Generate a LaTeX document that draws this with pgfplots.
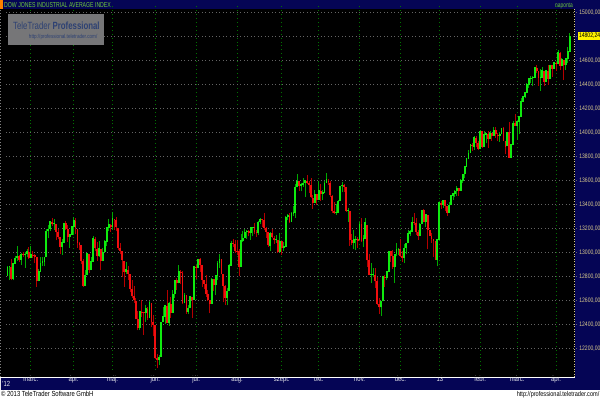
\documentclass[border=0pt]{standalone}
\usepackage{pgfplots}
\usepackage{pgfplotstable}
\pgfplotsset{compat=1.18}
\usepackage{fontspec}
\setmainfont{Liberation Sans}
\newfontfamily\nf[FakeStretch=0.8]{Liberation Sans}
\newfontfamily\tf[FakeStretch=0.72]{Liberation Sans}
\newfontfamily\yf[FakeStretch=0.78]{Liberation Sans}
\newfontfamily\wf[FakeStretch=0.75]{Liberation Sans}
\definecolor{navy}{RGB}{5,5,85}
\definecolor{gridgray}{RGB}{100,100,100}
\definecolor{gridgreen}{RGB}{0,115,0}
\definecolor{upbody}{RGB}{15,235,15}
\definecolor{upwick}{RGB}{0,170,0}
\definecolor{dnbody}{RGB}{240,15,15}
\definecolor{dnwick}{RGB}{180,0,0}
\definecolor{ticktan}{RGB}{215,200,140}
\definecolor{titlegreen}{RGB}{110,200,60}
\definecolor{wmgray}{RGB}{118,118,120}
\definecolor{wmblue}{RGB}{45,65,115}
\definecolor{monthgray}{RGB}{230,230,235}
\definecolor{baseline}{RGB}{150,150,140}

% DJIA daily candles, 13 Feb 2012 - 10 Apr 2013 (row 0 = 13 Feb 2012, row 12 = 1 Mar 2012)
\pgfplotstableread{
o h l c
12801 12884 12801 12874
12874 12879 12765 12878
12878 12947 12767 12781
12781 12910 12766 12904
12904 12972 12904 12950
12950 13056 12928 12966
12965 12976 12920 12938
12937 12993 12895 12985
12985 13000 12963 12983
12981 13006 12872 12982
12982 13027 12957 13005
13005 13041 12943 12952
12952 13056 12952 12980
12980 13010 12953 12978
12977 12989 12908 12962
12960 12960 12710 12759
12760 12858 12760 12837
12838 12958 12838 12907
12907 12960 12884 12922
12921 12961 12883 12960
12960 13193 12958 13177
13177 13227 13117 13194
13193 13254 13178 13253
13253 13290 13219 13233
13232 13276 13188 13239
13237 13237 13099 13170
13170 13198 13110 13125
13124 13124 12985 13046
13046 13108 12980 13080
13081 13248 13081 13241
13241 13265 13190 13197
13197 13224 13088 13126
13124 13150 13036 13146
13146 13223 13144 13212
13212 13297 13145 13264
13264 13289 13149 13199
13196 13196 13032 13075
13074 13089 13018 13060
13057 13057 12902 12929
12928 12947 12710 12716
12718 12856 12718 12806
12807 12993 12807 12987
12985 12985 12831 12850
12851 12957 12851 12921
12922 13132 12922 13116
13114 13130 13008 13033
13031 13088 12931 12965
12965 13098 12964 13029
13028 13028 12850 12928
12929 13036 12926 13002
13002 13100 13002 13091
13090 13214 13052 13205
13204 13280 13177 13229
13228 13240 13170 13214
13214 13338 13185 13280
13278 13280 13190 13269
13268 13292 13176 13207
13206 13206 13020 13038
13039 13078 12986 13009
13007 13007 12790 12933
12931 12931 12711 12836
12835 12919 12820 12855
12854 12888 12770 12821
12820 12820 12665 12695
12695 12770 12620 12633
12632 12717 12580 12599
12598 12620 12440 12443
12442 12511 12350 12369
12369 12507 12352 12504
12503 12602 12460 12502
12501 12501 12311 12496
12497 12564 12422 12530
12529 12543 12432 12455
12456 12592 12456 12581
12580 12580 12380 12420
12419 12480 12300 12393
12391 12391 12107 12119
12119 12155 12035 12101
12101 12147 12061 12127
12128 12420 12128 12415
12416 12548 12416 12461
12460 12558 12400 12554
12555 12684 12410 12412
12412 12586 12385 12574
12573 12627 12454 12497
12496 12682 12496 12652
12651 12768 12621 12767
12766 12784 12686 12742
12742 12898 12742 12837
12837 12856 12739 12825
12824 12844 12565 12574
12574 12660 12574 12641
12640 12640 12488 12503
12503 12563 12488 12535
12535 12637 12535 12628
12627 12627 12450 12602
12604 12880 12604 12880
12879 12895 12777 12871
12871 12948 12871 12943
12942 12954 12839 12896
12894 12894 12707 12772
12771 12771 12690 12736
12736 12808 12627 12653
12654 12686 12592 12605
12603 12603 12492 12573
12573 12784 12573 12777
12776 12776 12681 12727
12728 12812 12644 12805
12805 12926 12768 12909
12910 12983 12870 12943
12942 12942 12815 12823
12821 12821 12583 12722
12721 12731 12558 12618
12617 12700 12557 12677
12677 12900 12677 12888
12887 13094 12887 13076
13075 13114 13045 13073
13072 13101 12996 13009
13009 13105 12978 13008
13007 13027 12800 12878
12879 13151 12879 13096
13097 13178 13089 13118
13118 13192 13118 13169
13167 13186 13112 13176
13175 13188 13133 13165
13163 13209 13103 13208
13207 13207 13133 13207
13207 13247 13151 13172
13171 13188 13129 13165
13165 13259 13145 13251
13252 13285 13233 13276
13274 13276 13214 13272
13271 13330 13183 13203
13202 13211 13119 13173
13172 13172 13045 13058
13052 13172 13009 13158
13157 13197 13117 13124
13123 13140 13073 13103
13102 13142 13081 13108
13105 13105 12993 13001
13002 13158 13002 13091
13091 13097 12978 13036
13036 13089 13015 13047
13046 13299 13046 13292
13292 13320 13266 13307
13305 13325 13242 13254
13254 13339 13254 13324
13323 13383 13299 13333
13330 13573 13284 13540
13541 13653 13541 13593
13591 13591 13514 13553
13552 13578 13508 13565
13564 13621 13543 13577
13576 13600 13465 13597
13597 13647 13570 13579
13577 13597 13498 13558
13559 13621 13455 13457
13455 13479 13364 13413
13414 13520 13414 13486
13485 13485 13398 13437
13437 13596 13437 13515
13515 13567 13430 13482
13482 13519 13434 13495
13495 13594 13495 13575
13576 13661 13576 13610
13594 13610 13560 13583
13581 13592 13464 13474
13471 13480 13329 13345
13346 13419 13320 13327
13327 13400 13311 13329
13329 13438 13329 13424
13424 13552 13424 13551
13551 13588 13501 13557
13557 13572 13505 13548
13545 13545 13335 13344
13344 13368 13254 13346
13342 13342 13056 13103
13103 13155 13064 13078
13079 13183 13030 13104
13103 13137 13016 13107
13107 13129 13040 13096
13099 13252 13099 13232
13232 13290 13083 13093
13092 13147 13044 13112
13112 13290 13112 13246
13228 13228 12877 12933
12933 12984 12811 12811
12811 12913 12743 12815
12815 12865 12790 12815
12810 12868 12701 12757
12758 12794 12560 12571
12570 12622 12489 12543
12542 12596 12471 12588
12590 12797 12590 12796
12795 12812 12707 12788
12788 12843 12770 12836
12837 13011 12837 13010
13009 13009 12921 12967
12966 13018 12864 12878
12877 12985 12743 12985
12986 13080 12965 13022
13022 13040 12977 13026
13027 13109 12962 12965
12966 13012 12918 12951
12951 13069 12908 13035
13036 13074 12982 13074
13075 13184 13075 13155
13154 13183 13135 13170
13169 13294 13169 13249
13250 13331 13225 13245
13246 13286 13144 13171
13170 13186 13106 13135
13136 13243 13136 13236
13236 13354 13236 13351
13350 13365 13249 13252
13252 13313 13211 13312
13311 13311 13024 13190
13190 13190 13132 13139
13138 13164 13081 13114
13114 13114 12964 13096
13095 13095 12938 12938
12938 13109 12883 13104
13104 13412 13104 13412
13413 13430 13359 13391
13391 13436 13368 13435
13432 13432 13343 13385
13383 13384 13306 13329
13330 13420 13330 13391
13392 13473 13392 13471
13471 13497 13439 13488
13487 13519 13460 13507
13507 13550 13470 13535
13534 13534 13472 13512
13511 13609 13511 13596
13596 13650 13578 13650
13650 13712 13617 13712
13712 13782 13712 13779
13779 13855 13774 13826
13826 13896 13826 13896
13895 13915 13844 13882
13881 13969 13856 13954
13954 13967 13879 13911
13910 13929 13850 13861
13861 14020 13861 14010
14009 14009 13873 13880
13880 14014 13880 13979
13978 13996 13907 13987
13986 14007 13868 13944
13944 14008 13944 13993
13992 13993 13931 13971
13970 14045 13970 14019
14019 14043 13950 13982
13981 13991 13925 13973
13973 14000 13923 13981
13983 14036 13983 14035
14034 14045 13924 13928
13926 13926 13822 13881
13882 14003 13882 14001
14001 14086 13784 13784
13784 13905 13784 13900
13898 14091 13898 14076
14075 14150 14054 14054
14054 14090 13937 14090
14087 14128 13985 14128
14128 14286 14128 14254
14255 14302 14254 14296
14297 14331 14282 14329
14329 14414 14329 14397
14395 14448 14370 14448
14448 14473 14412 14450
14450 14470 14387 14455
14455 14539 14455 14539
14539 14563 14497 14515
14510 14510 14385 14453
14453 14525 14346 14456
14456 14547 14456 14512
14511 14511 14389 14421
14421 14514 14421 14512
14512 14563 14395 14448
14448 14560 14448 14560
14558 14558 14461 14527
14526 14585 14526 14579
14578 14590 14508 14573
14573 14684 14573 14662
14662 14669 14521 14550
14551 14623 14550 14606
14606 14606 14434 14565
14565 14613 14518 14613
14613 14711 14579 14673
14673 14826 14673 14802
}\djia

\begin{document}
\begin{tikzpicture}[x=1bp,y=1bp]
\useasboundingbox (0,0) rectangle (600,400);
% backgrounds
\fill[white] (0,0) rectangle (600,400);
\fill[black] (0,23) rectangle (575,391);
\fill[navy] (0,10) rectangle (575,22.4);
\fill[navy] (575,10) rectangle (600,400);
\fill[navy] (0,391) rectangle (600,400);
\fill[orange] (0,391) rectangle (3,400);

\begin{axis}[
  at={(3,25)}, anchor=south west,
  scale only axis, width=571bp, height=365bp,
  xmin=-12.85, xmax=280.7, ymin=12019, ymax=15061,
  axis line style={draw=none},
  major tick length=0pt,
  xtick={0,22,42,64,85,106,129,148,169,190,210,231,250,270},
  xticklabels={\mbox{márc.},\mbox{ápr.},\mbox{máj.},\mbox{jún.},\mbox{júl.},\mbox{aug.},\mbox{szept.},\mbox{okt.},\mbox{nov.},\mbox{dec.},\mbox{'13},\mbox{febr.},\mbox{márc.},\mbox{ápr.}},
  xticklabel style={anchor=base, yshift=-11bp, text=monthgray,
    font=\nf\fontsize{7.4}{8}\selectfont},
  ytick={12200,12400,12600,12800,13000,13200,13400,13600,13800,14000,14200,14400,14600,14800,15000},
  yticklabels={\mbox{12200,00},\mbox{12400,00},\mbox{12600,00},\mbox{12800,00},\mbox{13000,00},\mbox{13200,00},\mbox{13400,00},\mbox{13600,00},\mbox{13800,00},\mbox{14000,00},\mbox{14200,00},\mbox{14400,00},\mbox{14600,00},\mbox{14800,00},\mbox{15000,00}},
  yticklabel pos=right,
  yticklabel style={anchor=west, inner sep=0pt, xshift=2.3bp, text=ticktan,
    font=\yf\fontsize{6.5}{7}\selectfont},
  xmajorgrids, ymajorgrids,
  x grid style={gridgreen, line width=0.8bp, dash pattern=on 0.9bp off 3bp},
  y grid style={gridgray, line width=0.8bp, dash pattern=on 0.9bp off 2.6bp},
  clip=true,
]
% wicks
\addplot[draw=none, forget plot,
  error bars/.cd, y dir=plus, y explicit, error mark=none,
  error bar style={line width=0.8bp, color=upwick}]
  table[x expr=\coordindex-12,
        y expr={\thisrow{c}<\thisrow{o} ? nan : \thisrow{l}},
        y error expr=\thisrow{h}-\thisrow{l}] {\djia};
\addplot[draw=none, forget plot,
  error bars/.cd, y dir=plus, y explicit, error mark=none,
  error bar style={line width=0.8bp, color=dnwick}]
  table[x expr=\coordindex-12,
        y expr={\thisrow{c}<\thisrow{o} ? \thisrow{l} : nan},
        y error expr=\thisrow{h}-\thisrow{l}] {\djia};
% bodies
\addplot[draw=none, forget plot,
  error bars/.cd, y dir=plus, y explicit, error mark=none,
  error bar style={line width=1.85bp, color=upbody}]
  table[x expr=\coordindex-12,
        y expr={\thisrow{c}<\thisrow{o} ? nan : \thisrow{o}},
        y error expr=\thisrow{c}-\thisrow{o}+4] {\djia};
\addplot[draw=none, forget plot,
  error bars/.cd, y dir=plus, y explicit, error mark=none,
  error bar style={line width=1.85bp, color=dnbody}]
  table[x expr=\coordindex-12,
        y expr={\thisrow{c}<\thisrow{o} ? \thisrow{c} : nan},
        y error expr=\thisrow{o}-\thisrow{c}] {\djia};
\coordinate (cp) at (axis cs:280.7,14802.24);
\end{axis}

% axis frame lines
\draw[baseline, line width=1.2bp] (0,23.4) -- (575,23.4);
\draw[ticktan, line width=1bp, dash pattern=on 1bp off 1.5bp] (574.5,23) -- (574.5,391);
\draw[gray, line width=0.8bp, dash pattern=on 0.8bp off 2.2bp] (0.6,23) -- (0.6,391);
\draw[monthgray, line width=0.8bp] (0.6,10.5) -- (0.6,22.4);

% labels
\node[anchor=base west, inner sep=0pt, text=monthgray, font=\nf\fontsize{7.4}{8}\selectfont] at (2.2,14) {'12};
\node[anchor=base west, inner sep=0pt, text=titlegreen, font=\tf\fontsize{7.2}{8}\selectfont] at (4,392.8) {DOW JONES INDUSTRIAL AVERAGE INDEX};
\node[anchor=base east, inner sep=0pt, text=titlegreen, font=\tf\fontsize{6.8}{7}\selectfont] at (573,392.6) {naponta};
\node[anchor=west, fill=yellow, text=black, inner xsep=0.8bp, inner ysep=1.5bp, font=\yf\fontsize{6.5}{7}\selectfont] at ([xshift=1.2bp]cp) {14802,24};

% watermark
\fill[wmgray] (7.5,355) rectangle (104,386);
\node[anchor=base west, inner sep=0pt, text=wmblue, font=\wf\fontsize{10.5}{11}\selectfont] at (13,371) {TeleTrader \textbf{Professional}};
\node[anchor=base east, inner sep=0pt, text=wmblue, font=\nf\fontsize{5.8}{6}\selectfont] at (97.5,362) {http://professional.teletrader.com/};

% footer
\node[anchor=base west, inner sep=0pt, text=black, font=\nf\fontsize{7.4}{8}\selectfont] at (1,3.2) {© 2013 TeleTrader Software GmbH};
\node[anchor=base east, inner sep=0pt, text=black, font=\nf\fontsize{7}{8}\selectfont] at (599.5,3.2) {http://professional.teletrader.com/};
\end{tikzpicture}
\end{document}
